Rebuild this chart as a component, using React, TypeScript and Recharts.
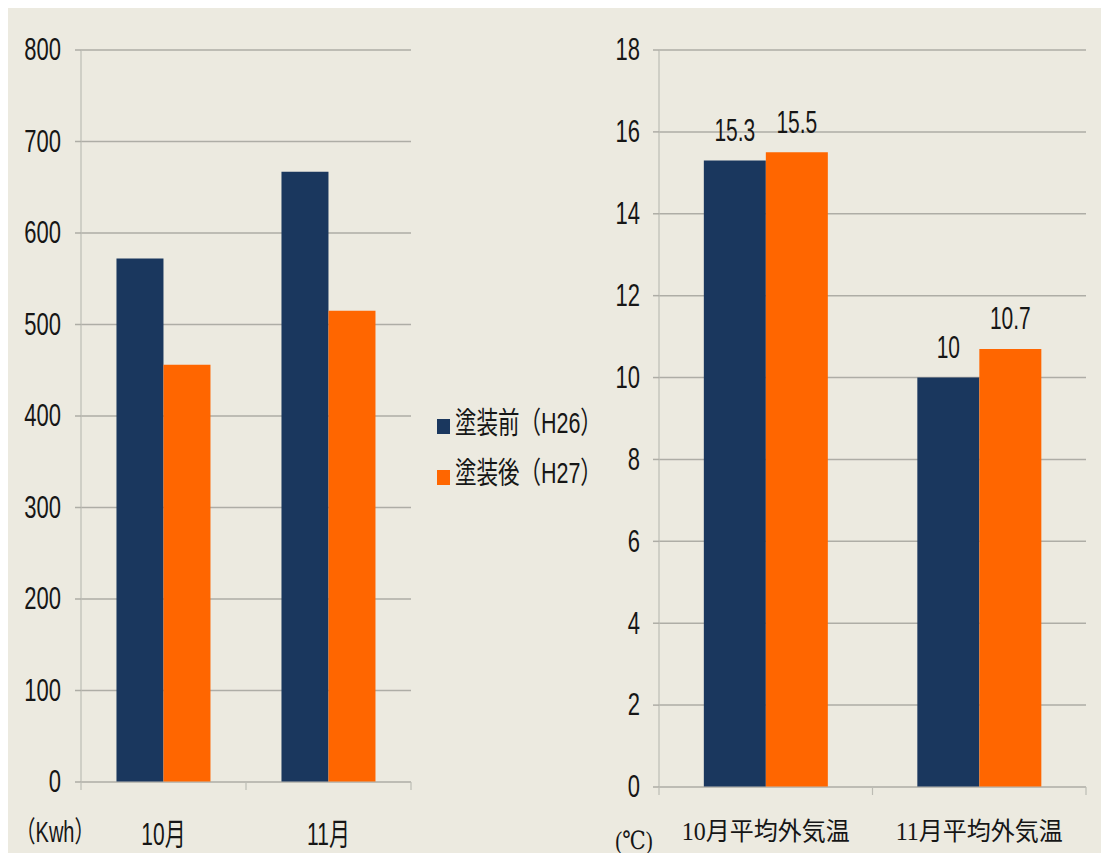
import React from 'react';
import { BarChart, Bar, XAxis, YAxis, CartesianGrid, LabelList } from 'recharts';

const MONTHS = ['10月', '11月'];
const KWH_BEFORE = [572, 667];
const KWH_AFTER = [456, 515];
const KWH_TICKS = [0, 100, 200, 300, 400, 500, 600, 700, 800];

const TEMP_CATS = ['10月平均外気温', '11月平均外気温'];
const TEMP_BEFORE = [15.3, 10];
const TEMP_AFTER = [15.5, 10.7];
const TEMP_TICKS = [0, 2, 4, 6, 8, 10, 12, 14, 16, 18];

const SERIES_NAMES = ['塗装前（H26）', '塗装後（H27）'];
const SERIES_COLORS = ['#1A375E', '#FF6600'];
const UNIT_LEFT = '（Kwh）';
const UNIT_RIGHT = '(℃)';

const kwhData = MONTHS.map((m, i) => ({ name: m, before: KWH_BEFORE[i], after: KWH_AFTER[i] }));
const tempData = TEMP_CATS.map((m, i) => ({ name: m, before: TEMP_BEFORE[i], after: TEMP_AFTER[i] }));

const SANS = "'Liberation Sans', Arial, 'Noto Sans CJK JP', sans-serif";
const SERIF = "'Liberation Serif', 'DejaVu Serif', 'Noto Sans CJK JP', serif";
const BG = '#ECEAE0';
const GRID = '#AEADA6';
const AXIS = '#BDBCB4';
const TXT = '#161616';

const W = 1101;
const H = 847;

function STxt({ x, y, anchor = 'middle', size = 21, sy = 1.45, family = SANS, children }: any) {
  return (
    <text
      transform={`translate(${x},${y}) scale(1,${sy})`}
      textAnchor={anchor}
      dominantBaseline="central"
      fontSize={size}
      fontFamily={family}
      fill={TXT}
    >
      {children}
    </text>
  );
}

const makeYTick = (size: number) => (p: any) => (
  <STxt x={p.x} y={p.y} anchor="end" size={size} sy={1.4}>
    {p.payload.value}
  </STxt>
);

const makeXTick = (band: number, count: number, labelDy: number, family: string, size: number, sy: number) => (p: any) => {
  const bx = p.x - band / 2;
  return (
    <g>
      <line x1={bx} y1={p.y} x2={bx} y2={p.y + 8} stroke={AXIS} strokeWidth={1.2} />
      {p.index === count - 1 && (
        <line x1={p.x + band / 2} y1={p.y} x2={p.x + band / 2} y2={p.y + 8} stroke={AXIS} strokeWidth={1.2} />
      )}
      <STxt x={p.x} y={p.y + labelDy} family={family} size={size} sy={sy}>
        {p.payload.value}
      </STxt>
    </g>
  );
};

const valueLabel = (p: any) => (
  <STxt x={p.x + p.width / 2} y={p.y - 30} size={21} sy={1.45}>
    {p.value}
  </STxt>
);

// Left chart geometry
const L_W = 420;
const L_YW = 73;
const L_MR = 17;
const L_PLOT = L_W - L_YW - L_MR;
// Right chart geometry
const R_LEFT = 560;
const R_W = 541;
const R_YW = 91;
const R_MR = 23;
const R_PLOT = R_W - R_YW - R_MR;

export default function App() {
  return (
    <div style={{ position: 'relative', width: W, height: H, background: BG, marginTop: -2 }}>
      <div style={{ position: 'absolute', left: 0, top: 0 }}>
        <BarChart
          width={L_W}
          height={H}
          data={kwhData}
          margin={{ top: 44, right: L_MR, bottom: 11, left: 0 }}
          barCategoryGap="21.5%"
          barGap={0}
        >
          <CartesianGrid vertical={false} stroke={GRID} strokeWidth={1.5} />
          <XAxis
            dataKey="name"
            interval={0}
            height={60}
            tickSize={0}
            tickMargin={0}
            tickLine={false}
            axisLine={{ stroke: AXIS, strokeWidth: 1.2 }}
            tick={makeXTick(L_PLOT / MONTHS.length, MONTHS.length, 53, SANS, 21, 1.45)}
          />
          <YAxis
            width={L_YW}
            domain={[0, 800]}
            ticks={KWH_TICKS}
            interval={0}
            tickSize={6}
            tickMargin={14}
            tickLine={{ stroke: GRID, strokeWidth: 1.5 }}
            axisLine={{ stroke: AXIS, strokeWidth: 1.2 }}
            tick={makeYTick(22)}
          />
          <Bar dataKey="before" name={SERIES_NAMES[0]} fill={SERIES_COLORS[0]} isAnimationActive={false} />
          <Bar dataKey="after" name={SERIES_NAMES[1]} fill={SERIES_COLORS[1]} isAnimationActive={false} />
        </BarChart>
      </div>
      <div style={{ position: 'absolute', left: R_LEFT, top: 0 }}>
        <BarChart
          width={R_W}
          height={H}
          data={tempData}
          margin={{ top: 44, right: R_MR, bottom: 6, left: 0 }}
          barCategoryGap="21%"
          barGap={0}
        >
          <CartesianGrid vertical={false} stroke={GRID} strokeWidth={1.5} />
          <XAxis
            dataKey="name"
            interval={0}
            height={60}
            tickSize={0}
            tickMargin={0}
            tickLine={false}
            axisLine={{ stroke: AXIS, strokeWidth: 1.2 }}
            tick={makeXTick(R_PLOT / TEMP_CATS.length, TEMP_CATS.length, 44, SERIF, 24, 1.05)}
          />
          <YAxis
            width={R_YW}
            domain={[0, 18]}
            ticks={TEMP_TICKS}
            interval={0}
            tickSize={6}
            tickMargin={13}
            tickLine={{ stroke: GRID, strokeWidth: 1.5 }}
            axisLine={{ stroke: AXIS, strokeWidth: 1.2 }}
            tick={makeYTick(22)}
          />
          <Bar dataKey="before" name={SERIES_NAMES[0]} fill={SERIES_COLORS[0]} isAnimationActive={false}>
            <LabelList dataKey="before" content={valueLabel} />
          </Bar>
          <Bar dataKey="after" name={SERIES_NAMES[1]} fill={SERIES_COLORS[1]} isAnimationActive={false}>
            <LabelList dataKey="after" content={valueLabel} />
          </Bar>
        </BarChart>
      </div>
      <svg
        width={W}
        height={H}
        style={{ position: 'absolute', left: 0, top: 0, pointerEvents: 'none' }}
      >
        <STxt x={47} y={826} size={20} sy={1.45}>{UNIT_LEFT}</STxt>
        <STxt x={626} y={834} size={21} sy={1.2} family={SERIF}>{UNIT_RIGHT}</STxt>
        {SERIES_NAMES.map((n, i) => (
          <g key={n}>
            <rect x={429} y={413 + i * 51} width={13} height={15} fill={SERIES_COLORS[i]} />
            <STxt x={447} y={417 + i * 50} anchor="start" size={21.5} sy={1.4}>{n}</STxt>
          </g>
        ))}
      </svg>
    </div>
  );
}
